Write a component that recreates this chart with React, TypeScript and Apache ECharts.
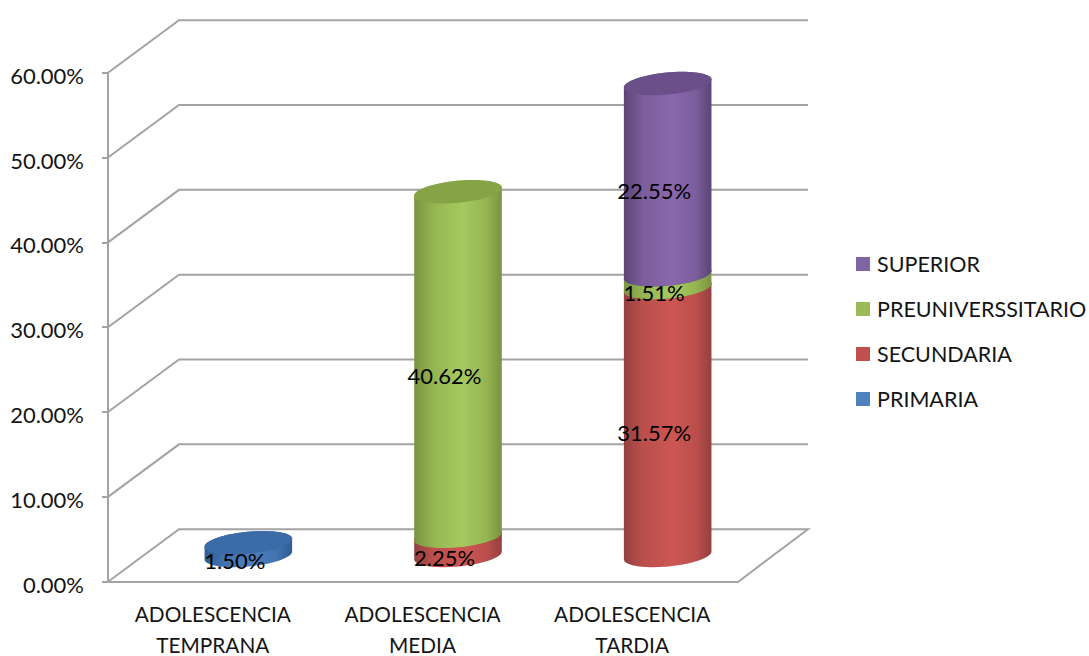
import React, { useEffect, useRef } from "react";
import * as echarts from "echarts";

const categories = ["ADOLESCENCIA\nTEMPRANA", "ADOLESCENCIA\nMEDIA", "ADOLESCENCIA\nTARDIA"];
const yTicks = [0, 10, 20, 30, 40, 50, 60];

const primaria = [1.5, 0, 0];
const secundaria = [0, 2.25, 31.57];
const preuniversitario = [0, 40.62, 1.51];
const superior = [0, 0, 22.55];

const layers = [
  { name: "PRIMARIA", values: primaria, color: "#4f81bd", edge: "#2f5c92", body: "#4173ae", mid: "#4a80c0", cap: "#3b6ca8" },
  { name: "SECUNDARIA", values: secundaria, color: "#c0504d", edge: "#944140", body: "#bb4f4c", mid: "#cd5653", cap: "#a84744" },
  { name: "PREUNIVERSSITARIO", values: preuniversitario, color: "#9bbb59", edge: "#7a9440", body: "#95b552", mid: "#a6c95f", cap: "#86a345" },
  { name: "SUPERIOR", values: superior, color: "#8064a2", edge: "#5a4476", body: "#7b5e9c", mid: "#8a67ae", cap: "#6a4f88" },
];

const FONT = "Lato";
const TEXT = "#141414";
const LINE = "#a3a3a3";

// Oblique depth of the floor and the walls.
const DEPTH_X = 71;
const DEPTH_Y = 52.5;
// Cylinder shape: half axes of its elliptical section and the tilt of that section.
const RX = 44;
const RY = 11;
const TILT = (-5.5 * Math.PI) / 180;

const ellipsePoint = (cx: number, cy: number, t: number) => {
  const u = RX * Math.cos(t);
  const v = RY * Math.sin(t);
  return [cx + u * Math.cos(TILT) - v * Math.sin(TILT), cy + u * Math.sin(TILT) + v * Math.cos(TILT)];
};

const arc = (cx: number, cy: number, from: number, to: number, steps = 48) => {
  const pts: number[][] = [];
  for (let i = 0; i <= steps; i++) pts.push(ellipsePoint(cx, cy, from + ((to - from) * i) / steps));
  return pts;
};

// Running totals of the stack, one [category, start, end] row per visible segment.
const stackedRows = () => {
  const base = categories.map(() => 0);
  return layers.map((layer) =>
    layer.values.map((v, i) => {
      const row = [i, base[i], base[i] + v];
      base[i] += v;
      return row;
    }),
  );
};

export default function App() {
  const ref = useRef<HTMLDivElement>(null);

  useEffect(() => {
    const chart = echarts.init(ref.current!, null, { renderer: "svg" });
    const rows = stackedRows();

    const wallSeries = {
      type: "custom",
      name: "walls",
      silent: true,
      z: 1,
      data: yTicks.map((t) => [0, t]),
      encode: { x: 0, y: 1 },
      renderItem: (params: any, api: any) => {
        const cs = params.coordSys;
        const y = api.coord([0, api.value(1)])[1];
        const points = [
          [cs.x, y],
          [cs.x + DEPTH_X, y - DEPTH_Y],
          [cs.x + cs.width + DEPTH_X, y - DEPTH_Y],
        ];
        if (api.value(1) === 0) points.push([cs.x + cs.width, y + 1]);
        return { type: "polyline", shape: { points }, style: { stroke: LINE, lineWidth: 2, fill: "none" } };
      },
    };

    const cylinderSeries = layers.map((layer, li) => ({
      type: "custom",
      name: layer.name,
      silent: true,
      z: 3,
      itemStyle: { color: layer.color },
      data: rows[li],
      encode: { x: 0, y: [1, 2] },
      renderItem: (_: any, api: any) => {
        const start = api.value(1);
        const end = api.value(2);
        if (end - start <= 0) return null;
        const lo = api.coord([api.value(0), start]);
        const hi = api.coord([api.value(0), end]);
        const cx = lo[0] + DEPTH_X / 2;
        const body = [...arc(cx, lo[1] - DEPTH_Y / 2, Math.PI, 0), ...arc(cx, hi[1] - DEPTH_Y / 2, 0, -Math.PI)];
        const cap = arc(cx, hi[1] - DEPTH_Y / 2, 0, 2 * Math.PI, 72);
        return {
          type: "group",
          children: [
            {
              type: "polygon",
              shape: { points: body },
              style: {
                fill: new echarts.graphic.LinearGradient(0, 0, 1, 0, [
                  { offset: 0, color: layer.edge },
                  { offset: 0.22, color: layer.body },
                  { offset: 0.55, color: layer.mid },
                  { offset: 0.82, color: layer.body },
                  { offset: 1, color: layer.edge },
                ]),
              },
            },
            { type: "polygon", shape: { points: cap }, style: { fill: layer.cap } },
          ],
        };
      },
    }));

    const labelRows = rows.flatMap((group) => group.filter((r) => r[2] > r[1]));
    const labelSeries = {
      type: "custom",
      name: "labels",
      silent: true,
      z: 5,
      data: labelRows,
      encode: { x: 0, y: [1, 2] },
      renderItem: (_: any, api: any) => {
        const start = api.value(1);
        const end = api.value(2);
        const p = api.coord([api.value(0), (start + end) / 2]);
        return {
          type: "text",
          style: {
            x: p[0] + 22,
            y: p[1] - 15,
            text: `${(end - start).toFixed(2)}%`,
            fill: "#000",
            fontFamily: FONT,
            fontSize: 22,
            align: "center",
            verticalAlign: "middle",
          },
        };
      },
    };

    chart.setOption({
      animation: false,
      backgroundColor: "#fff",
      grid: { left: 108, top: 72.7, width: 629, height: 509, outerBoundsMode: "none" },
      legend: {
        orient: "vertical",
        left: 856,
        top: 253,
        padding: 0,
        icon: "rect",
        itemWidth: 14,
        itemHeight: 14,
        itemGap: 23,
        selectedMode: false,
        data: ["SUPERIOR", "PREUNIVERSSITARIO", "SECUNDARIA", "PRIMARIA"],
        textStyle: { color: TEXT, fontFamily: FONT, fontSize: 21.5, padding: [0, 0, 0, 2] },
      },
      xAxis: {
        type: "category",
        data: categories,
        offset: 1.5,
        axisLine: { lineStyle: { color: LINE, width: 2 } },
        axisTick: { length: 7, lineStyle: { color: LINE, width: 2 } },
        axisLabel: { color: TEXT, fontFamily: FONT, fontSize: 20.8, lineHeight: 31, margin: 15, interval: 0 },
      },
      yAxis: {
        type: "value",
        min: 0,
        max: 60,
        interval: 10,
        splitLine: { show: false },
        axisLine: { show: true, lineStyle: { color: LINE, width: 2 } },
        axisTick: { show: true, length: 6, lineStyle: { color: LINE, width: 2 } },
        axisLabel: {
          margin: 24,
          formatter: (v: number) => `{tick|${v.toFixed(2)}%}`,
          rich: { tick: { color: TEXT, fontFamily: FONT, fontSize: 22, padding: [5, 0, 0, 0] } },
        },
      },
      series: [wallSeries, ...cylinderSeries, labelSeries],
    });

    return () => chart.dispose();
  }, []);

  return <div ref={ref} style={{ position: "fixed", left: 0, top: 0, width: 1089, height: 656 }} />;
}
